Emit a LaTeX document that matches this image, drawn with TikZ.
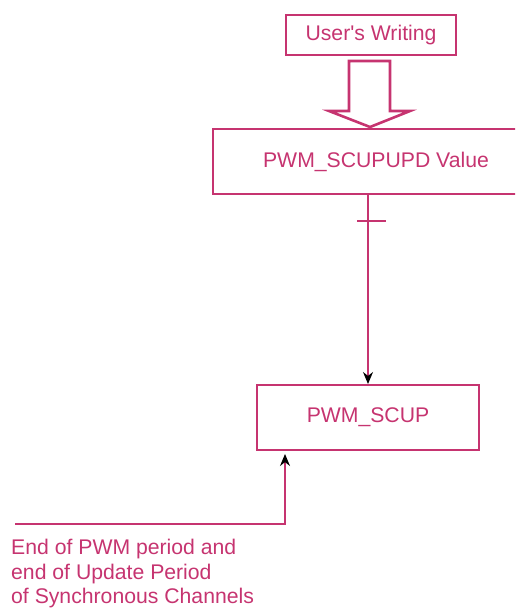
\documentclass[tikz,border=0pt]{standalone}
\usepackage{fontspec}
\setmainfont{Liberation Sans}
\usepackage{xcolor}
\usetikzlibrary{arrows.meta,positioning,calc}
\definecolor{pwmpink}{RGB}{198,52,112}

\begin{document}
\begin{tikzpicture}[
    x=1pt, y=-1pt,
    node distance=74pt,
    regbox/.style={rectangle, draw=pwmpink, line width=2.6pt, outer sep=0pt, inner sep=0pt, text=pwmpink, font=\fontsize{21.2pt}{24.5pt}\selectfont, minimum height=65pt},
    link/.style={draw=pwmpink, line width=1.1pt, -{Stealth[length=12pt,width=10pt,color=black]}},
    hollow/.style={draw=pwmpink, line width=2.6pt, line join=miter},
    note/.style={text=pwmpink, font=\fontsize{21.2pt}{24.5pt}\selectfont, align=left, inner sep=0pt}
]
    \clip (0,0) rectangle (515,609);

    \node [regbox, minimum width=170pt, minimum height=40pt] (write) at (371,35) {User\textquotesingle s Writing};
    \node [regbox, minimum width=326pt, below=74pt of write, xshift=5pt] (scupupd) {PWM\_SCUPUPD Value};
    \node [regbox, minimum width=222pt, below=191pt of scupupd, xshift=-8pt] (scup) {PWM\_SCUP};

    % hollow arrow for the write
    \draw [hollow] (349,61) -- (390,61) -- (390,111) -- (410,111) -- (370,127)
        -- (329,111) -- (349,111) -- cycle;

    \draw [link, shorten >=1pt] (scup.north |- scupupd.south) -- (scup.north);
    \coordinate (tick) at ($(scup.north |- scupupd.south)+(0,27)$);
    \draw [draw=pwmpink, line width=1.4pt] ([xshift=-11pt]tick) -- ([xshift=18pt]tick);

    \coordinate (endsig) at (15,524);
    \draw [link, shorten >=4pt] (endsig) -| ([xshift=28pt]scup.south west);
    \node [note, anchor=north west] (endtext) at (11,539) {End of PWM period and\\end of Update Period\\of Synchronous Channels};
\end{tikzpicture}
\end{document}
